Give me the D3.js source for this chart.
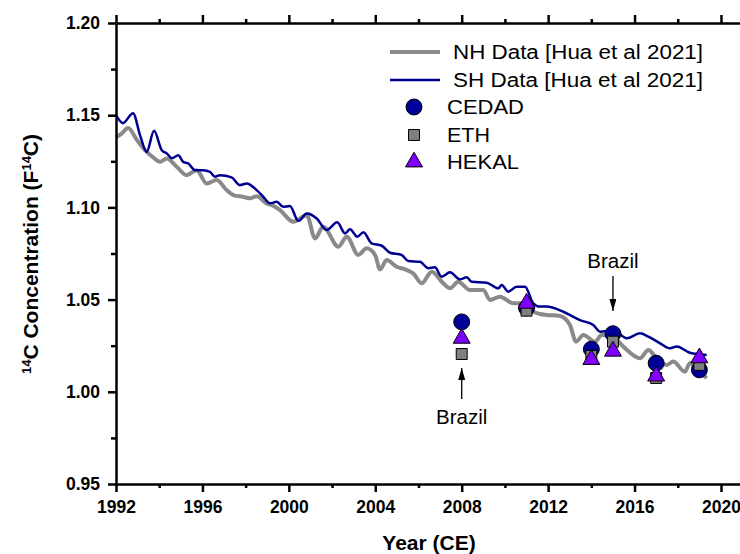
<!DOCTYPE html>
<html lang="en">
<head>
<meta charset="UTF-8">
<title>14C concentration</title>
<style>
body{margin:0;background:#fff;}
svg text{font-family:"Liberation Sans",Arial,sans-serif;}
.axis text{font-size:17.5px;font-weight:bold;fill:#000;}
.axis path,.axis line{stroke:#000;stroke-width:2.5;}
</style>
</head>
<body>
<div class="chart"></div>
<script src="https://d3js.org/d3.v7.min.js"></script>
<script>
// NH record [Hua et al 2021]
var nhYears = [1992.00,1992.23,1992.56,1992.97,1993.42,1993.71,1994.04,1994.35,1994.81,1995.27,1995.73,1996.20,1996.66,1997.12,1997.43,1997.89,1998.20,1998.51,1998.97,1999.22,1999.59,2000.21,2000.83,2001.21,2001.59,2002.29,2002.68,2003.21,2003.60,2003.99,2004.22,2004.53,2004.99,2005.38,2005.76,2006.15,2006.61,2007.15,2007.46,2007.84,2008.38,2009.00,2009.31,2009.77,2010.39,2010.70,2011.31,2011.62,2011.93,2012.55,2013.01,2013.29,2013.63,2014.17,2014.48,2014.96,2015.48,2016.25,2016.64,2017.02,2017.49,2017.79,2018.33,2018.56,2018.93,2019.34];
var nhVals = [1.1381,1.1397,1.1430,1.1365,1.1301,1.1272,1.1247,1.1265,1.1220,1.1175,1.1202,1.1130,1.1148,1.1094,1.1067,1.1057,1.1049,1.1061,1.1022,1.1012,1.0985,1.0922,1.0958,1.0832,1.0895,1.0787,1.0841,1.0742,1.0778,1.0742,1.0664,1.0715,1.0678,1.0664,1.0642,1.0588,1.0651,1.0588,1.0561,1.0597,1.0552,1.0552,1.0498,1.0516,1.0480,1.0480,1.0434,1.0422,1.0417,1.0411,1.0362,1.0272,1.0308,1.0272,1.0308,1.0303,1.0245,1.0182,1.0227,1.0182,1.0146,1.0164,1.0109,1.0155,1.0119,1.0074];

// SH record [Hua et al 2021]
var shYears = [1992.00,1992.32,1992.79,1993.11,1993.42,1993.76,1994.12,1994.35,1994.59,1994.88,1995.11,1995.35,1995.66,1996.04,1996.35,1996.58,1996.81,1997.35,1997.74,1998.05,1998.51,1998.82,1999.13,1999.44,1999.74,2000.05,2000.44,2000.83,2001.29,2001.75,2002.24,2002.60,2002.83,2003.17,2003.45,2003.83,2004.30,2004.68,2005.22,2005.53,2006.07,2006.45,2006.76,2007.07,2007.46,2007.92,2008.23,2008.46,2009.16,2009.69,2009.85,2010.16,2010.54,2010.93,2011.31,2011.62,2011.93,2012.70,2013.47,2014.09,2014.40,2015.02,2015.64,2016.25,2016.64,2017.18,2017.64,2017.95,2018.56,2019.34];
var shVals = [1.1500,1.1457,1.1511,1.1392,1.1301,1.1415,1.1310,1.1293,1.1267,1.1283,1.1247,1.1238,1.1202,1.1202,1.1193,1.1166,1.1175,1.1163,1.1121,1.1130,1.1094,1.1057,1.1022,1.1030,1.1003,1.1007,1.0927,1.0967,1.0940,1.0877,1.0919,1.0859,1.0881,1.0841,1.0865,1.0805,1.0792,1.0754,1.0742,1.0709,1.0705,1.0670,1.0675,1.0624,1.0648,1.0610,1.0621,1.0597,1.0592,1.0561,1.0579,1.0543,1.0570,1.0570,1.0480,1.0462,1.0462,1.0434,1.0389,1.0362,1.0326,1.0335,1.0290,1.0317,1.0299,1.0263,1.0236,1.0245,1.0212,1.0200];

// lab measurements
var sampleYears = [2008,2011,2014,2015,2017,2019];
var cedadVals = [1.0379,1.0455,1.0231,1.0315,1.0155,1.0119];
var ethVals   = [1.0205,1.0440,1.0195,1.0272,1.0075,1.0146];
var hekalVals = [1.0290,1.0480,1.0175,1.0220,1.0085,1.0184];

var xTicks = [1992,1996,2000,2004,2008,2012,2016,2020];
var xMinor = [1994,1998,2002,2006,2010,2014,2018];
var yTicks = [0.95,1.00,1.05,1.10,1.15,1.20];
var yMinor = [0.975,1.025,1.075,1.125,1.175];

var W = 740, H = 554;
var plotL = 116, plotT = 23, plotR = 740, plotB = 484;

var svg = d3.select('.chart')
	.append('svg')
	.attr('width', W)
	.attr('height', H);

var x = d3.scaleLinear().domain([1992, 2020.88]).range([plotL, plotR]);
var y = d3.scaleLinear().domain([0.95, 1.20]).range([plotB, plotT]);

var line = d3.line()
	.x(function(d){ return x(d[0]); })
	.y(function(d){ return y(d[1]); })
	.curve(d3.curveMonotoneX);

var nh = d3.zip(nhYears, nhVals);
var sh = d3.zip(shYears, shVals);

svg.append('path')
	.datum(nh)
	.attr('d', line)
	.attr('fill', 'none')
	.attr('stroke', '#8a8a8a')
	.attr('stroke-width', 4);

svg.append('path')
	.datum(sh)
	.attr('d', line)
	.attr('fill', 'none')
	.attr('stroke', '#000090')
	.attr('stroke-width', 2.5);

// markers: circles, then squares, triangles on top
var circ = d3.symbol().type(d3.symbolCircle).size(200);
var sq = d3.symbol().type(d3.symbolSquare).size(120);
var tri = d3.symbol().type(d3.symbolTriangle).size(125);

function drawMarks(vals, sym, fill){
	svg.append('g').selectAll('path')
		.data(d3.zip(sampleYears, vals))
		.enter().append('path')
		.attr('transform', function(d){ return 'translate(' + x(d[0]) + ',' + y(d[1]) + ')'; })
		.attr('d', sym)
		.attr('fill', fill)
		.attr('stroke', '#000')
		.attr('stroke-width', 1);
}
drawMarks(cedadVals, circ, '#000099');
drawMarks(ethVals, sq, '#808080');
drawMarks(hekalVals, tri, '#8000ff');

// axes
var xAxis = d3.axisBottom(x).tickValues(xTicks).tickFormat(d3.format('d'))
	.tickSizeInner(8).tickSizeOuter(0).tickPadding(9);
svg.append('g').attr('class', 'axis')
	.attr('transform', 'translate(0,' + plotB + ')')
	.call(xAxis);
svg.append('g').attr('class', 'axis')
	.attr('transform', 'translate(0,' + plotB + ')')
	.call(d3.axisBottom(x).tickValues(xMinor).tickFormat('').tickSizeInner(4).tickSizeOuter(0))
	.select('.domain').remove();

svg.append('g').attr('class', 'axis')
	.attr('transform', 'translate(0,' + plotT + ')')
	.call(d3.axisTop(x).tickValues(xTicks).tickFormat('').tickSizeInner(8).tickSizeOuter(0));
svg.append('g').attr('class', 'axis')
	.attr('transform', 'translate(0,' + plotT + ')')
	.call(d3.axisTop(x).tickValues(xMinor).tickFormat('').tickSizeInner(4).tickSizeOuter(0))
	.select('.domain').remove();

var yAxis = d3.axisLeft(y).tickValues(yTicks).tickFormat(d3.format('.2f'))
	.tickSizeInner(8).tickSizeOuter(0).tickPadding(8);
svg.append('g').attr('class', 'axis')
	.attr('transform', 'translate(' + plotL + ',0)')
	.call(yAxis);
svg.append('g').attr('class', 'axis')
	.attr('transform', 'translate(' + plotL + ',0)')
	.call(d3.axisLeft(y).tickValues(yMinor).tickFormat('').tickSizeInner(5).tickSizeOuter(0))
	.select('.domain').remove();

// axis titles
svg.append('text')
	.attr('x', 429).attr('y', 550)
	.attr('text-anchor', 'middle')
	.style('font-size', '21px').style('font-weight', 'bold')
	.text('Year (CE)');

var yt = svg.append('text')
	.attr('transform', 'translate(38,' + 254 + ') rotate(-90)')
	.attr('text-anchor', 'middle')
	.style('font-size', '21px').style('font-weight', 'bold');
yt.append('tspan').attr('dy', '-7').style('font-size', '13px').text('14');
yt.append('tspan').attr('dy', '7').text('C Concentration (F');
yt.append('tspan').attr('dy', '-7').style('font-size', '13px').text('14');
yt.append('tspan').attr('dy', '7').text('C)');

// legend
var legLines = [['NH Data [Hua et al 2021]', '#8a8a8a', 4, 52], ['SH Data [Hua et al 2021]', '#000090', 2.5, 80]];
legLines.forEach(function(l){
	svg.append('line').attr('x1', 390).attr('x2', 440).attr('y1', l[3]).attr('y2', l[3])
		.attr('stroke', l[1]).attr('stroke-width', l[2]);
	svg.append('text').attr('x', 453).attr('y', l[3] + 7)
		.style('font-size', '20px').attr('textLength', 250)
		.attr('lengthAdjust', 'spacingAndGlyphs').text(l[0]);
});
var legMarks = [['CEDAD', circ, '#000099', 107, 77], ['ETH', sq, '#808080', 135, 43], ['HEKAL', tri, '#8000ff', 162, 72]];
legMarks.forEach(function(m){
	svg.append('path').attr('transform', 'translate(414,' + m[3] + ')')
		.attr('d', m[1]).attr('fill', m[2]).attr('stroke', '#000').attr('stroke-width', 1);
	svg.append('text').attr('x', 447).attr('y', m[3] + 7)
		.style('font-size', '20px').attr('textLength', m[4])
		.attr('lengthAdjust', 'spacingAndGlyphs').text(m[0]);
});

// Brazil annotations
svg.append('defs').append('marker')
	.attr('id', 'head').attr('viewBox', '0 0 10 10')
	.attr('refX', 10).attr('refY', 5)
	.attr('markerWidth', 12).attr('markerHeight', 7)
	.attr('markerUnits', 'userSpaceOnUse')
	.attr('orient', 'auto')
	.attr('preserveAspectRatio', 'none')
	.append('path').attr('d', 'M0,0 L10,5 L0,10 Z').attr('fill', '#000');

svg.append('line')
	.attr('x1', x(2008)).attr('x2', x(2008)).attr('y1', 399).attr('y2', 368)
	.attr('stroke', '#000').attr('stroke-width', 1.3).attr('marker-end', 'url(#head)');
svg.append('text').attr('x', x(2008)).attr('y', 424)
	.attr('text-anchor', 'middle').style('font-size', '20.5px').text('Brazil');

svg.append('line')
	.attr('x1', x(2015)).attr('x2', x(2015)).attr('y1', 276).attr('y2', 311)
	.attr('stroke', '#000').attr('stroke-width', 1.3).attr('marker-end', 'url(#head)');
svg.append('text').attr('x', x(2015)).attr('y', 268)
	.attr('text-anchor', 'middle').style('font-size', '20.5px').text('Brazil');
</script>
</body>
</html>
